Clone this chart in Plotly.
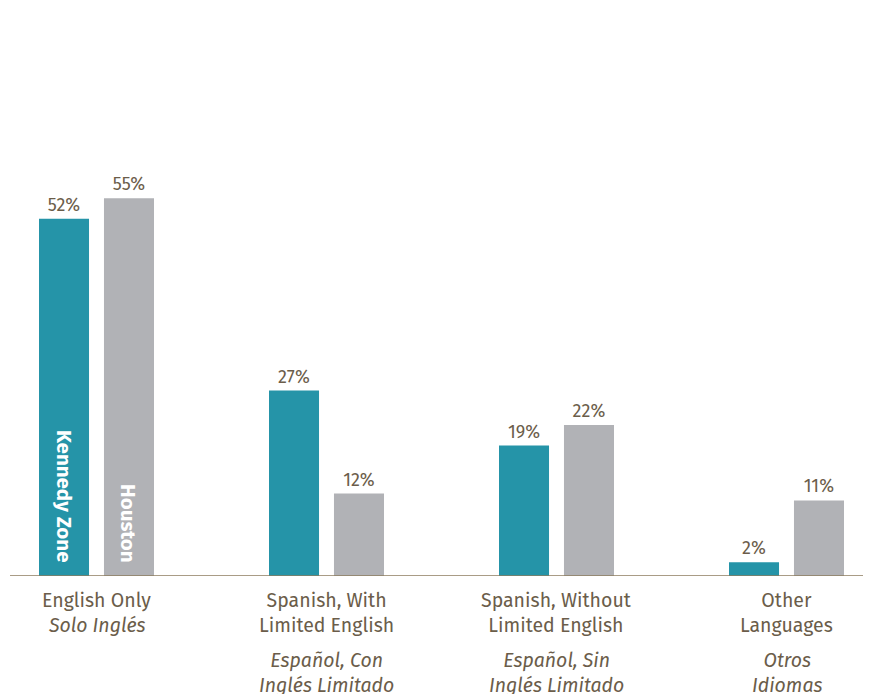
import plotly.graph_objects as go

categories = ["English Only", "Spanish, With Limited English", "Spanish, Without Limited English", "Other Languages"]
english_labels = ["English Only", "Spanish, With<br>Limited English", "Spanish, Without<br>Limited English", "Other<br>Languages"]
spanish_labels = ["Solo Inglés", "Español, Con<br>Inglés Limitado", "Español, Sin<br>Inglés Limitado", "Otros<br>Idiomas"]
kennedy = [52, 27, 19, 2]
houston = [55, 12, 22, 11]
series_names = ["Kennedy Zone", "Houston"]

TEAL = "#2594A8"
GRAY = "#B1B2B6"
TXT = "#6B5D4A"
AXIS = "#8C7B5E"
FONT = "Fira Sans, Open Sans, sans-serif"

x = list(range(len(categories)))

fig = go.Figure()
fig.add_trace(go.Bar(x=x, y=kennedy, name=series_names[0], marker=dict(color=TEAL, line=dict(width=0)),
                     text=[f"{v}%" for v in kennedy], textposition="outside", cliponaxis=False,
                     textfont=dict(size=18, color=TXT, family=FONT)))
fig.add_trace(go.Bar(x=x, y=houston, name=series_names[1], marker=dict(color=GRAY, line=dict(width=0)),
                     text=[f"{v}%" for v in houston], textposition="outside", cliponaxis=False,
                     textfont=dict(size=18, color=TXT, family=FONT)))

annotations = []
for i in x:
    annotations.append(dict(x=i, y=0, xref="x", yref="y", text=english_labels[i], showarrow=False,
                            yanchor="top", yshift=-11, font=dict(size=19.5, color=TXT, family=FONT)))
    shift = -36 if "<br>" not in english_labels[i] else -71
    annotations.append(dict(x=i, y=0, xref="x", yref="y", text="<i>" + spanish_labels[i] + "</i>", showarrow=False,
                            yanchor="top", yshift=shift, font=dict(size=19.5, color=TXT, family=FONT)))

# series names inside first group bars
for name, off in zip(series_names, [-0.139, 0.139]):
    annotations.append(dict(x=0 + off, y=0, xref="x", yref="y", text="<b>" + name + "</b>", showarrow=False,
                            textangle=90, yanchor="bottom", xanchor="center", yshift=11,
                            font=dict(size=20.5, color="white", family=FONT)))

fig.update_layout(
    width=863, height=686,
    margin=dict(l=0, r=0, t=0, b=118),
    paper_bgcolor="white", plot_bgcolor="white",
    barmode="group", bargap=0.435, bargroupgap=0.23,
    showlegend=False,
    annotations=annotations,
    font=dict(family=FONT, color=TXT),
)
fig.update_xaxes(range=[-0.3848, 3.3674], showticklabels=False, showgrid=False, zeroline=False,
                 showline=False, ticks="")
fig.update_yaxes(range=[0, 82.7], showticklabels=False, showgrid=False, zeroline=False, showline=False)
fig.add_shape(type="line", xref="x", yref="y", x0=-0.376, x1=3.3674, y0=0, y1=0,
              line=dict(color=AXIS, width=1.5))

fig.write_html("out.html")
